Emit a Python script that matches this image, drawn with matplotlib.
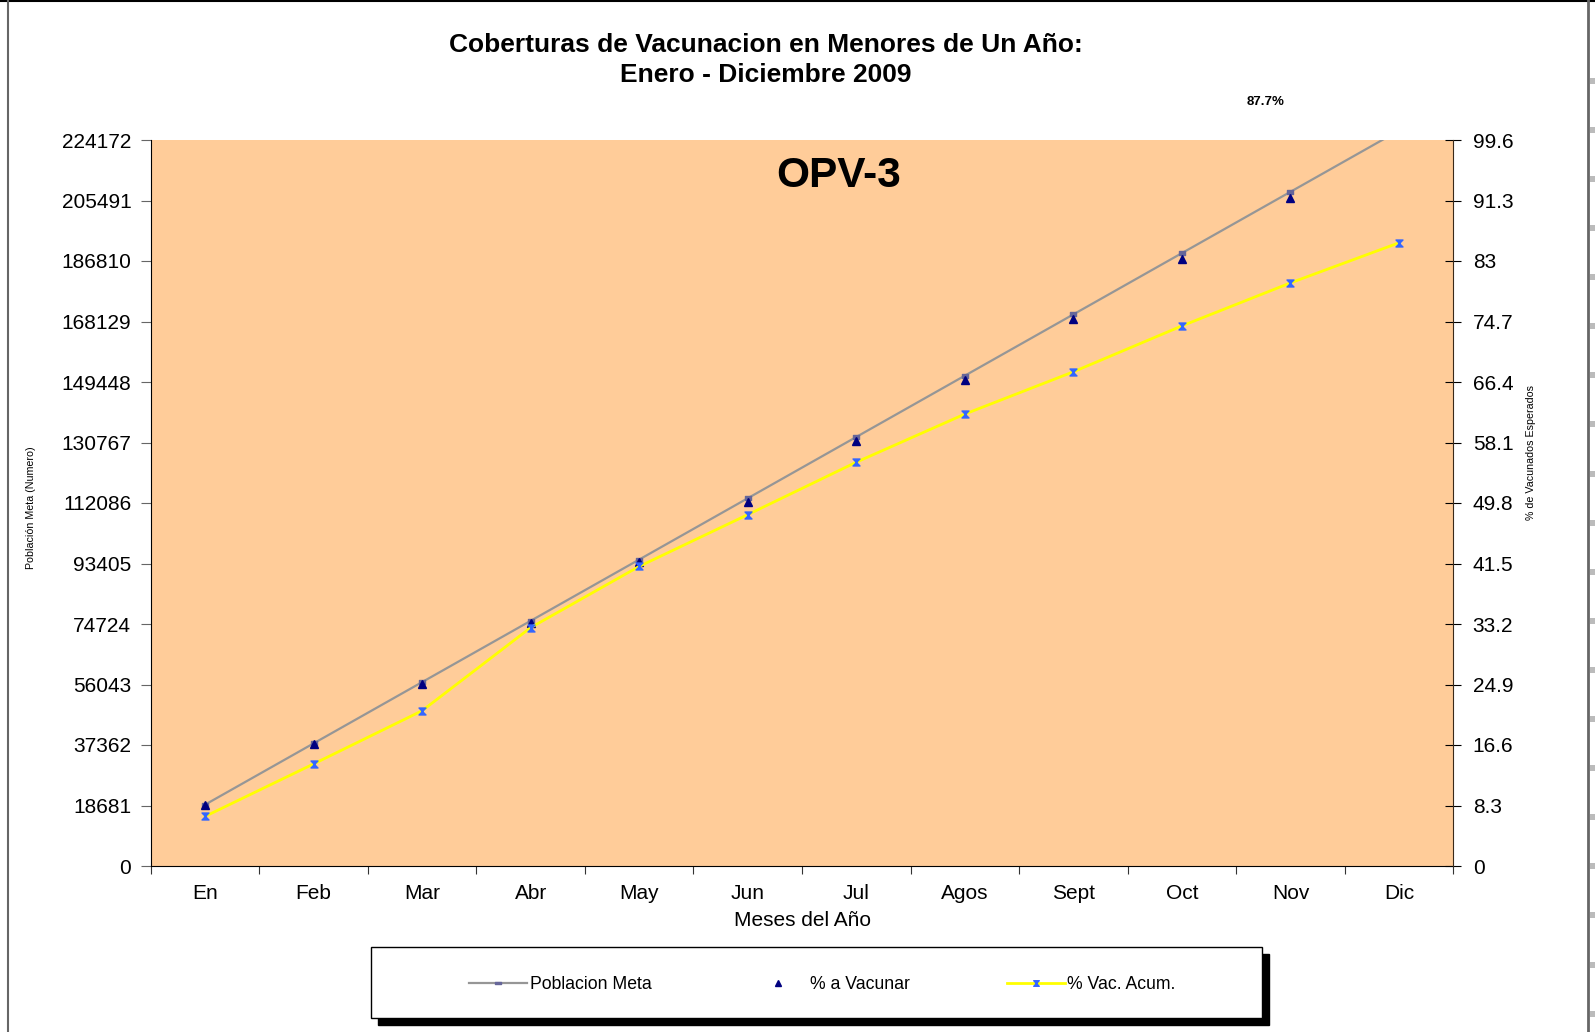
import numpy as np
import matplotlib
matplotlib.use("Agg")
import matplotlib.pyplot as plt
from matplotlib.patches import Rectangle
from matplotlib.lines import Line2D
from matplotlib.path import Path

plt.rcParams['font.family'] = ['Liberation Sans', 'DejaVu Sans']

# ---- data ----
months = ["En", "Feb", "Mar", "Abr", "May", "Jun", "Jul", "Agos", "Sept", "Oct", "Nov", "Dic"]
poblacion_meta = [18925, 37850, 56775, 75700, 94625, 113550, 132475, 151400, 170325, 189250, 208175, 227100]
pct_a_vacunar = [8.33, 16.67, 25.0, 33.33, 41.67, 50.0, 58.33, 66.67, 75.0, 83.33, 91.67, 100.0]
pct_vac_acum = [6.8, 14.0, 21.3, 32.7, 41.1, 48.2, 55.4, 62.0, 67.8, 74.1, 80.0, 85.5]
left_ticks = [0, 18681, 37362, 56043, 74724, 93405, 112086, 130767, 149448, 168129, 186810, 205491, 224172]
right_ticks = [0, 8.3, 16.6, 24.9, 33.2, 41.5, 49.8, 58.1, 66.4, 74.7, 83, 91.3, 99.6]
right_labels = ["0", "8.3", "16.6", "24.9", "33.2", "41.5", "49.8", "58.1", "66.4", "74.7", "83", "91.3", "99.6"]
title_lines = ["Coberturas de Vacunacion en Menores de Un Año:", "Enero - Diciembre 2009"]
subtitle = "OPV-3"
note_label = "87.7%"

W, H = 1595, 1032
fig = plt.figure(figsize=(W / 100, H / 100), dpi=100)
fig.patch.set_facecolor("white")

def fx(px):
    return px / W

def fy(py):
    return 1 - py / H

L, R, T, B = 150.7, 1453.3, 140, 866
ax = fig.add_axes([fx(L), fy(B), fx(R) - fx(L), fy(T) - fy(B)])
ax.set_facecolor("#FFCC99")
x = np.arange(len(months))

hourglass = Path([(-1, 1), (1, 1), (-1, -1), (1, -1), (-1, 1)],
                 [Path.MOVETO, Path.LINETO, Path.LINETO, Path.LINETO, Path.CLOSEPOLY])
dash = Path([(-1, -0.5), (1, -0.5), (1, 0.5), (-1, 0.5), (-1, -0.5)],
            [Path.MOVETO, Path.LINETO, Path.LINETO, Path.LINETO, Path.CLOSEPOLY])

ax.plot(x, poblacion_meta, color="#969696", lw=1.6, marker=dash, ms=5,
        mfc="#666699", mec="#666699", zorder=3)
ax.set_xlim(-0.5, len(months) - 0.5)
ax.set_ylim(0, left_ticks[-1])
ax.set_yticks(left_ticks)
ax.set_yticklabels([str(v) for v in left_ticks], fontsize=15)
ax.set_xticks(np.arange(-0.5, len(months), 1.0))
ax.set_xticklabels([])
ax.set_xticks(x, minor=True)
ax.set_xticklabels(months, minor=True, fontsize=15)
ax.tick_params(axis='x', which='minor', length=0, pad=13)
ax.tick_params(axis='x', which='major', length=6, direction='out', color='#333333')
ax.tick_params(axis='y', length=7, direction='out', color='#666666', pad=7)
ax.spines['top'].set_visible(False)
ax.spines['right'].set_visible(False)
ax.spines['left'].set_color('black')
ax.spines['bottom'].set_color('black')
ax.set_xlabel("Meses del Año", fontsize=15, labelpad=6)

ax2 = ax.twinx()
ymax2 = right_ticks[-1]
tri = np.array(pct_a_vacunar, dtype=float)
tri = np.where(tri > ymax2, np.nan, tri)
ax2.plot(x, tri, ls='none', marker='^', ms=5.5, color="#000080", zorder=4)
ax2.plot(x, pct_vac_acum, color="#FFFF00", lw=2.0, marker=hourglass, ms=5,
         mfc="#3366FF", mec="#3366FF", zorder=5)
ax2.set_ylim(0, ymax2)
ax2.set_yticks(right_ticks)
ax2.set_yticklabels(right_labels, fontsize=15)
ax2.tick_params(axis='y', length=12, direction='inout', color='black', pad=8)
ax2.spines['top'].set_visible(False)
ax2.spines['left'].set_visible(False)
ax2.spines['bottom'].set_visible(False)
ax2.spines['right'].set_color('#3a2a1a')

# titles and labels
fig.text(fx(766), fy(45), title_lines[0], ha='center', va='center', fontsize=19, fontweight='bold')
fig.text(fx(766), fy(75), title_lines[1], ha='center', va='center', fontsize=19, fontweight='bold')
fig.text(fx(839), fy(176), subtitle, ha='center', va='center', fontsize=30.5, fontweight='bold')
fig.text(fx(1266), fy(102), note_label, ha='center', va='center', fontsize=9.5, fontweight='bold')
fig.text(fx(31), fy(508), "Población Meta (Numero)", rotation=90, ha='center', va='center', fontsize=7.7)
fig.text(fx(1531), fy(453), "% de Vacunados Esperados", rotation=90, ha='center', va='center', fontsize=7.7)

# legend frame with shadow
lx0, ly0, lx1, ly1 = 371, 947, 1262, 1018
fig.add_artist(Rectangle((fx(lx0 + 7), fy(ly1 + 7)), fx(lx1) - fx(lx0), fy(ly0) - fy(ly1),
                         transform=fig.transFigure, facecolor='black', edgecolor='black', zorder=1))
fig.add_artist(Rectangle((fx(lx0), fy(ly1)), fx(lx1) - fx(lx0), fy(ly0) - fy(ly1),
                         transform=fig.transFigure, facecolor='white', edgecolor='black', lw=1, zorder=2))
handles = [
    Line2D([], [], color="#969696", lw=1.6, marker=dash, ms=4, mfc="#666699", mec="#666699"),
    Line2D([], [], ls='none', marker='^', ms=5, color="#000080"),
    Line2D([], [], color="#FFFF00", lw=2.0, marker=hourglass, ms=4, mfc="#3366FF", mec="#3366FF"),
]
leg = fig.legend(handles, ["Poblacion Meta", "% a Vacunar", "% Vac. Acum."], ncol=3,
                 loc='center', bbox_to_anchor=(fx((lx0 + lx1) / 2 + 6), fy((ly0 + ly1) / 2 + 2)),
                 frameon=False, fontsize=12.7, handlelength=3.3, handletextpad=0.15,
                 columnspacing=5.5)
leg.set_zorder(3)

# outer border
fig.add_artist(Line2D([0, 1], [fy(0.5), fy(0.5)], transform=fig.transFigure, color='black', lw=1.5))
fig.add_artist(Line2D([fx(7.5), fx(7.5)], [0, 1], transform=fig.transFigure, color='#666666', lw=1.5))
fig.add_artist(Line2D([fx(1588), fx(1588)], [0, 1], transform=fig.transFigure, color='#666666', lw=2))
for k in range(-3, 17):
    yy = 228 + 49.1 * k
    if 20 < yy < H:
        fig.add_artist(Rectangle((fx(1590), fy(yy + 3)), fx(6), 6 / H,
                                 transform=fig.transFigure, facecolor='#BBBBBB', edgecolor='none'))

fig.savefig("out.png", dpi=100)
